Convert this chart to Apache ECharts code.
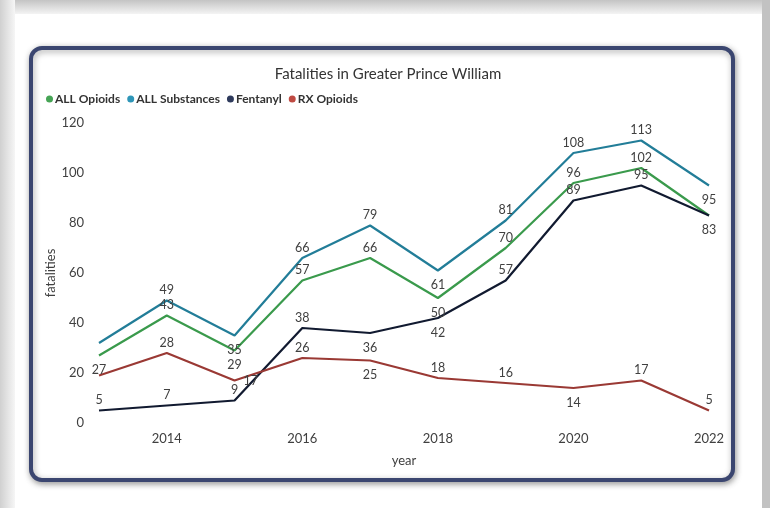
<!DOCTYPE html>
<html>
<head>
<meta charset="utf-8">
<script src="https://cdn.jsdelivr.net/npm/echarts@6/dist/echarts.min.js"></script>
<style>
html,body{margin:0;padding:0;background:#fff;}
#c{width:770px;height:508px;}
</style>
</head>
<body>
<div id="c"></div>
<script>
const years = ['2013','2014','2015','2016','2017','2018','2019','2020','2021','2022'];
const allOpioids   = [27, 43, 29, 57, 66, 50, 70, 96, 102, 83];
const allSubstances= [32, 49, 35, 66, 79, 61, 81, 108, 113, 95];
const fentanyl     = [5, 7, 9, 38, 36, 42, 57, 89, 95, 83];
const rxOpioids    = [19, 28, 17, 26, 25, 18, 16, 14, 17, 5];
const yTicks = [0, 20, 40, 60, 80, 100, 120];

// label placement per point (t=top, b=bottom, r=right, n=none)
const posOpioids    = ['b','t','b','t','t','b','t','t','t','b'];
const posSubstances = ['n','t','b','t','t','b','t','t','t','b'];
const posFentanyl   = ['t','t','t','t','b','b','t','t','t','n'];
const posRx         = ['n','t','r','t','b','t','t','b','t','t'];

const posMap = {t:'top', b:'bottom', r:'right'};
function mkData(vals, pos){
  return vals.map((v,i)=>{
    if(pos[i]==='n') return {value:v, label:{show:false}};
    return {value:v, label:{show:true, position:posMap[pos[i]], distance: pos[i]==='b'?8:(pos[i]==='r'?9:4)}};
  });
}

const chart = echarts.init(document.getElementById('c'));
const font = 'Lato, "Open Sans", sans-serif';
const lbl = {fontFamily:font, fontSize:12.5, color:'#404040'};

function series(name, vals, pos, color){
  return {
    name, type:'line', data: mkData(vals,pos), symbol:'circle', symbolSize:0.01, showSymbol:true,
    lineStyle:{width:2.2, color}, itemStyle:{color},
    label:Object.assign({show:true}, lbl),
    labelLayout:{hideOverlap:false},
    emphasis:{disabled:true}
  };
}

chart.setOption({
  animation:false,
  backgroundColor:'#ffffff',
  graphic:[
    {type:'rect', z:-10, shape:{x:0,y:0,width:770,height:14}, style:{fill:new echarts.graphic.LinearGradient(0,0,0,1,[{offset:0,color:'#c4c4c4'},{offset:1,color:'#f4f4f4'}])}},
    {type:'rect', z:-10, shape:{x:0,y:0,width:15,height:508}, style:{fill:new echarts.graphic.LinearGradient(0,0,1,0,[{offset:0,color:'#d0d0d0'},{offset:1,color:'#f6f6f6'}])}},
    {type:'rect', z:-10, shape:{x:762,y:0,width:8,height:508}, style:{fill:'#c2c2c2'}},
    {type:'rect', z:-9, shape:{x:31,y:48,width:702,height:432,r:11},
      style:{fill:'#ffffff', stroke:'#3b4670', lineWidth:4, shadowBlur:6, shadowColor:'rgba(0,0,0,0.35)', shadowOffsetX:1, shadowOffsetY:2}}
  ],
  title:{
    text:'Fatalities in Greater Prince William', left:383, top:62, textAlign:'center',
    textStyle:{fontFamily:font, fontSize:15, fontWeight:'normal', color:'#333333'}
  },
  legend:{
    left:41, top:88, icon:'circle', itemWidth:7, itemHeight:7, itemGap:7,
    textStyle:{fontFamily:font, fontSize:12, fontWeight:'bold', color:'#333333', padding:[0,0,0,-3]},
    data:[
      {name:'ALL Opioids', itemStyle:{color:'#46a455'}},
      {name:'ALL Substances', itemStyle:{color:'#2e96b8'}},
      {name:'Fentanyl', itemStyle:{color:'#2e3a5c'}},
      {name:'RX Opioids', itemStyle:{color:'#bf4a42'}}
    ]
  },
  grid:{left:99, right:61, top:123, bottom:85},
  xAxis:{
    type:'category', data:years, boundaryGap:false,
    name:'year', nameLocation:'middle', nameGap:31,
    nameTextStyle:{fontFamily:font, fontSize:13, color:'#404040'},
    axisLine:{show:false}, axisTick:{show:false},
    axisLabel:{interval:(i)=>i%2===1, fontFamily:font, fontSize:13, color:'#404040', margin:9}
  },
  yAxis:{
    type:'value', min:yTicks[0], max:yTicks[yTicks.length-1], interval:20,
    name:'fatalities', nameLocation:'middle', nameGap:42, nameMoveOverlap:false,
    nameTextStyle:{fontFamily:font, fontSize:13, color:'#404040'},
    axisLine:{show:false}, axisTick:{show:false}, splitLine:{show:false},
    axisLabel:{fontFamily:font, fontSize:13, color:'#404040', margin:15}
  },
  series:[
    series('ALL Opioids', allOpioids, posOpioids, '#3a9a4c'),
    series('ALL Substances', allSubstances, posSubstances, '#227d98'),
    series('Fentanyl', fentanyl, posFentanyl, '#111a30'),
    series('RX Opioids', rxOpioids, posRx, '#9a3934')
  ]
});
</script>
</body>
</html>
